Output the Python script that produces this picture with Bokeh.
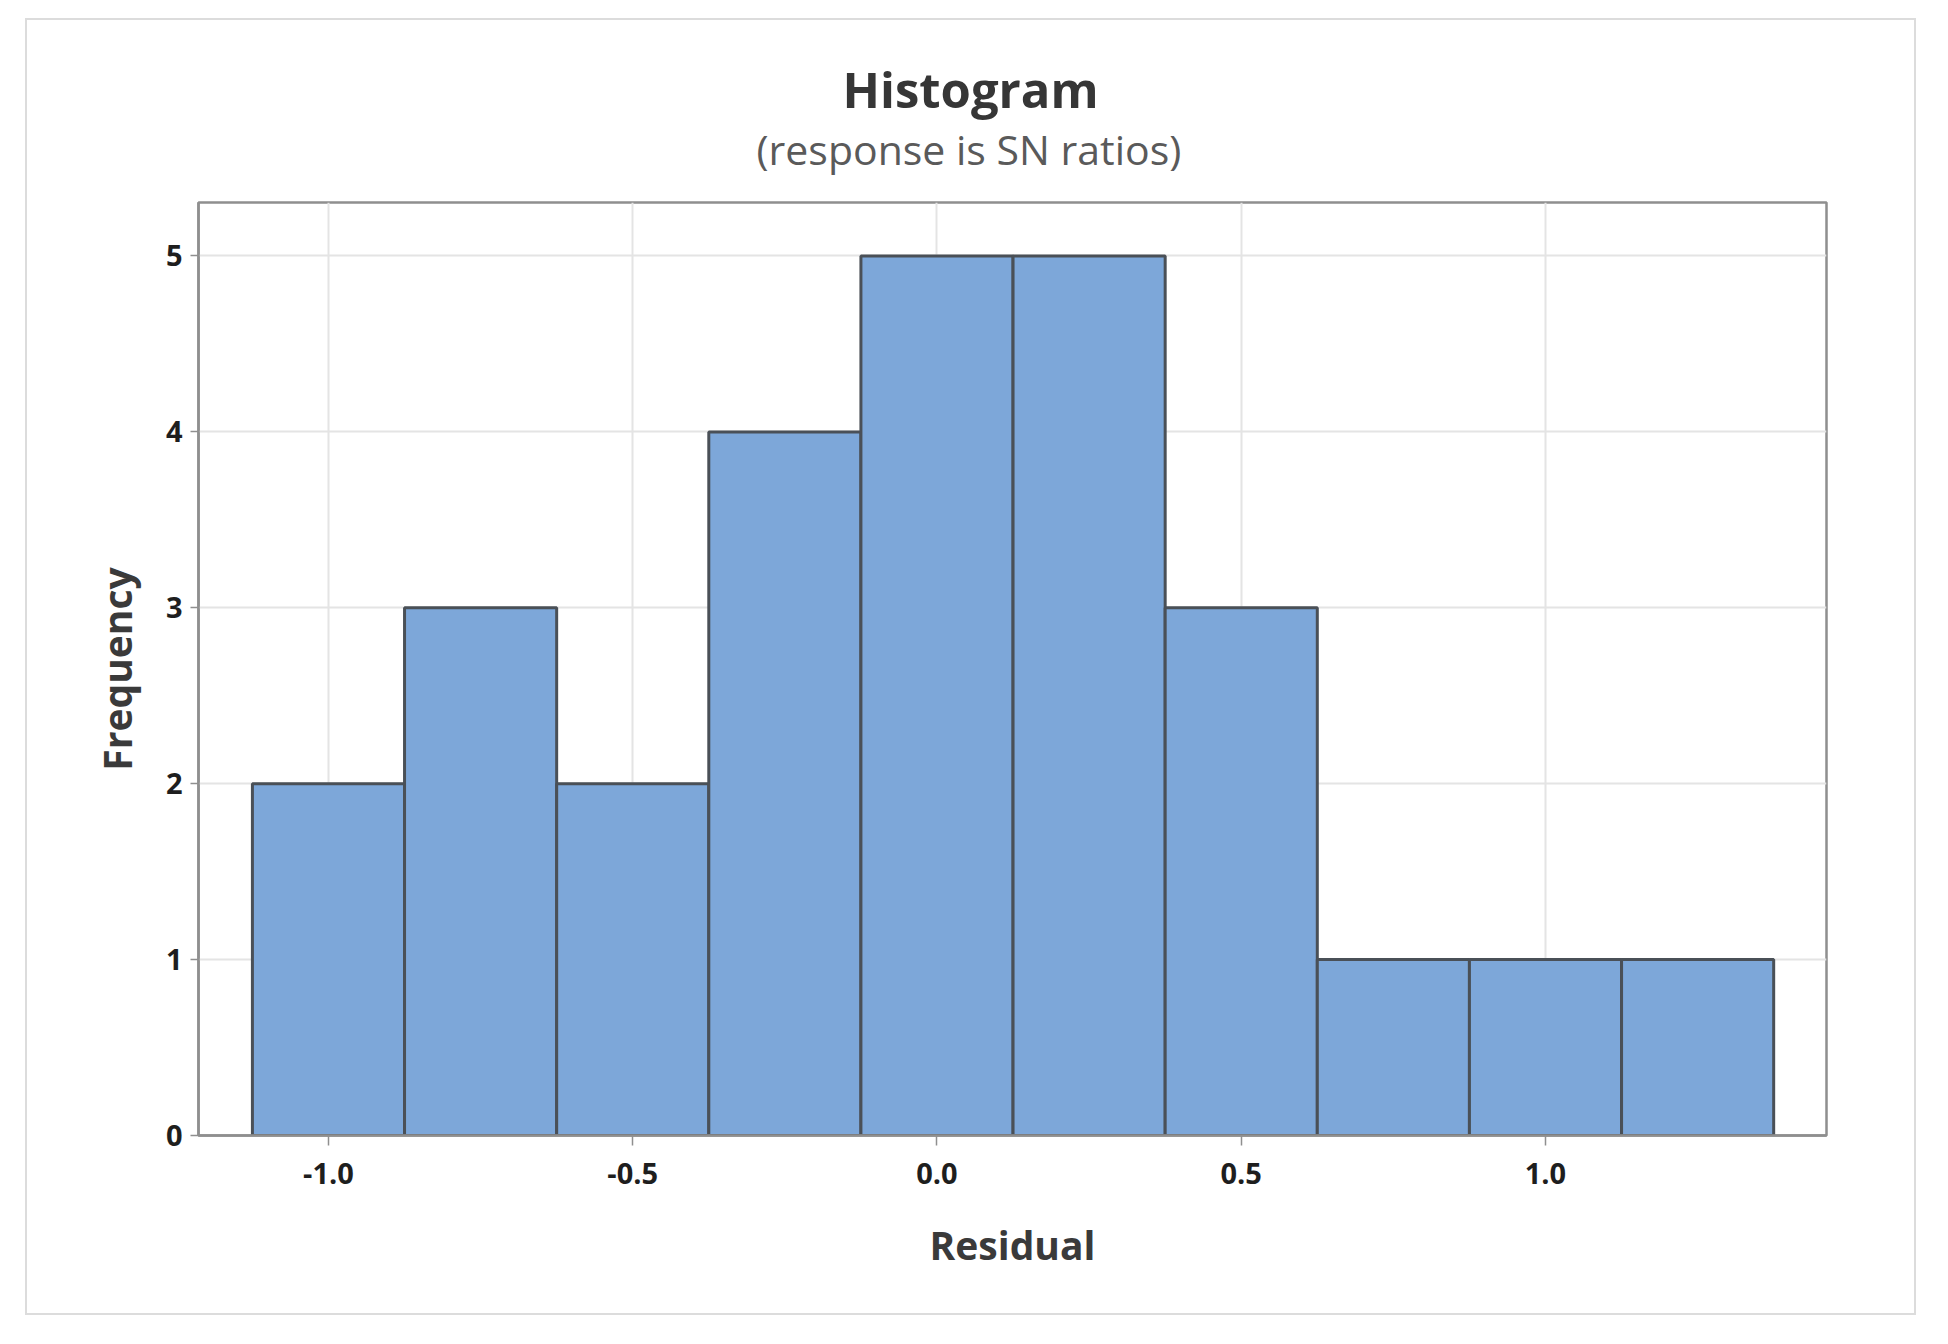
from bokeh.plotting import figure
from bokeh.models import FixedTicker, Title, Range1d
from bokeh.embed import file_html
from bokeh.resources import INLINE

# ---- data ----
bin_centers = [-1.0, -0.75, -0.5, -0.25, 0.0, 0.25, 0.5, 0.75, 1.0, 1.25]
counts = [2, 3, 2, 4, 5, 5, 3, 1, 1, 1]
bin_width = 0.25
x_ticks = [-1.0, -0.5, 0.0, 0.5, 1.0]
x_tick_labels = ["-1.0", "-0.5", "0.0", "0.5", "1.0"]
y_ticks = [0, 1, 2, 3, 4, 5]
y_tick_labels = ["0", "1", "2", "3", "4", "5"]
title_text = "Histogram"
subtitle_text = "(response is SN ratios)"
x_label = "Residual"
y_label = "Frequency"

FONT = "Open Sans"

lefts = [c - bin_width / 2 for c in bin_centers]
rights = [c + bin_width / 2 for c in bin_centers]

p = figure(
    frame_width=1628, frame_height=933,
    min_border_left=171, min_border_right=88,
    min_border_top=182, min_border_bottom=178,
    x_range=Range1d(-1.2136, 1.4618), y_range=Range1d(0, 5.304),
    output_backend="svg", toolbar_location=None,
    background_fill_color="white", border_fill_color="white",
    title=None,
)
p.margin = (20, 0, 0, 27)
p.styles = {"outline": "2px solid #dcdcdc"}

p.quad(left=lefts, right=rights, bottom=0, top=counts,
       fill_color="#7da7d9", line_color="#4a5057", line_width=3)

# grid
p.xgrid.ticker = FixedTicker(ticks=x_ticks)
p.ygrid.ticker = FixedTicker(ticks=y_ticks)
for g in (p.xgrid, p.ygrid):
    g.grid_line_color = "#e4e4e4"
    g.grid_line_width = 2

p.outline_line_color = "#8f8f8f"
p.outline_line_width = 2.5
p.outline_line_alpha = 1.0

# axes
p.xaxis.ticker = FixedTicker(ticks=x_ticks)
p.xaxis.major_label_overrides = dict(zip(x_ticks, x_tick_labels))
p.yaxis.ticker = FixedTicker(ticks=y_ticks)
p.yaxis.major_label_overrides = dict(zip(y_ticks, y_tick_labels))
for ax in (p.xaxis, p.yaxis):
    ax.axis_line_color = "#8f8f8f"
    ax.axis_line_width = 2.5
    ax.major_tick_line_color = "#8f8f8f"
    ax.major_tick_line_width = 1.5
    ax.major_tick_in = 0
    ax.minor_tick_line_color = None
    ax.major_label_text_font = FONT
    ax.major_label_text_font_style = "bold"
    ax.major_label_text_font_size = "29px"
    ax.major_label_text_color = "#1e1e1e"
    ax.axis_label_text_font = FONT
    ax.axis_label_text_font_style = "bold"
    ax.axis_label_text_font_size = "39px"
    ax.axis_label_text_color = "#3a3a3a"

p.xaxis.major_tick_out = 10
p.yaxis.major_tick_out = 8
p.xaxis.major_label_standoff = 17
p.yaxis.major_label_standoff = 8
p.xaxis.axis_label = x_label
p.yaxis.axis_label = y_label
p.xaxis.axis_label_standoff = 31
p.yaxis.axis_label_standoff = 20

# titles: subtitle nearest the frame, main title above it
p.add_layout(Title(text=subtitle_text, align="left", offset=558, standoff=52,
                   text_font=FONT, text_font_style="normal", text_font_size="41px",
                   text_color="#5a5a5a"), "above")
p.add_layout(Title(text=title_text, align="left", offset=644, standoff=-59,
                   text_font=FONT, text_font_style="bold", text_font_size="49px",
                   text_color="#363636"), "above")

open("out.html", "w").write(file_html(p, INLINE))
